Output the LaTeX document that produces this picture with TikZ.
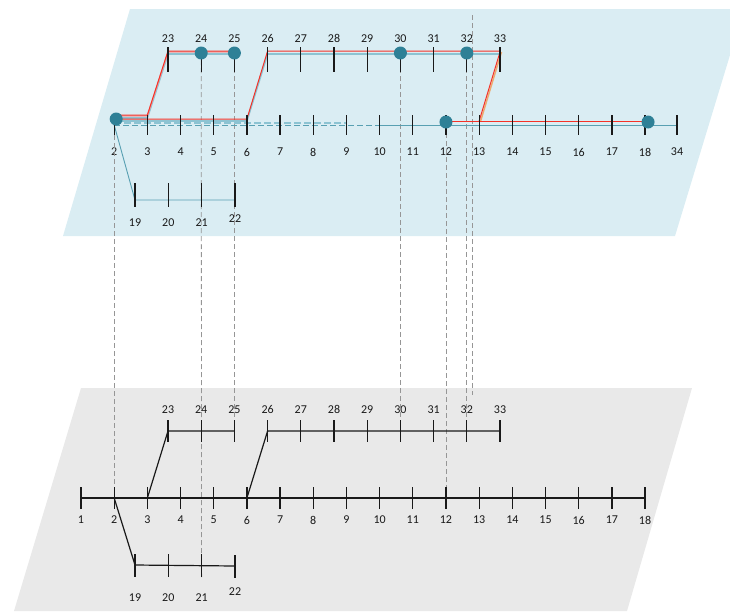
\documentclass[tikz,border=0pt]{standalone}
\usepackage{fontspec}
\setmainfont{Carlito}
\usepackage{tikz}
\usetikzlibrary{positioning}
\definecolor{planeblue}{RGB}{218,237,243}
\definecolor{planegray}{RGB}{233,233,233}
\definecolor{hubteal}{RGB}{46,128,150}
\definecolor{lineteal}{RGB}{88,160,178}
\definecolor{paleteal}{RGB}{140,195,210}
\definecolor{pathred}{RGB}{245,50,40}
\definecolor{palered}{RGB}{240,155,155}
\definecolor{pathtan}{RGB}{238,170,110}
\definecolor{tiegray}{RGB}{150,150,150}

\tikzset{
  bus/.style={inner sep=0pt, minimum size=0pt, outer sep=0pt},
  lab/.style={font=\fontsize{12}{13}\selectfont, inner sep=1pt, text=black!90},
  bustick/.style={line width=1.3pt, black!90},
  feeder/.style={line width=1.2pt, black!90},
  tie/.style={tiegray, line width=0.8pt, dash pattern=on 5pt off 3pt},
  hub/.style={circle, fill=hubteal, inner sep=0pt, minimum size=13pt},
  redpath/.style={pathred, line width=1pt, line join=round},
  pinkpath/.style={palered, line width=1.4pt, line join=round},
  tealpath/.style={paleteal, line width=1.6pt, line join=round},
  tealline/.style={lineteal, line width=0.9pt},
}

\begin{document}
\begin{tikzpicture}[x=1pt, y=-1pt]
\useasboundingbox (0,0) rectangle (730,611);
\clip (0,0) rectangle (730,611);

% planes
\fill[planeblue] (130,9) -- (744,9) -- (675,236) -- (63,236) -- cycle;
\fill[planegray] (81,388) -- (692,388) -- (627,611) -- (14,611) -- cycle;

% lower plane
\foreach \n [evaluate=\n as \x using {81+(\n-1)*33.18}] in {1,...,18}
  \node[bus, label={[lab, label distance=17pt]below:\n}] (b\n) at (\x,498) {};
\foreach \n [evaluate=\n as \x using {168+(\n-23)*33.2}] in {23,...,33}
  \node[bus, label={[lab, label distance=16pt]above:\n}] (c\n) at (\x,431) {};
\foreach \n [evaluate=\n as \x using {135+(\n-19)*33.3}] in {19,20,21}
  \node[bus, label={[lab, label distance=27pt]below:\n}] (d\n) at (\x,565) {};
\node[bus, label={[lab, label distance=21pt]below:22}] (d22) at (235,566) {};

% upper plane
\foreach \n [evaluate=\n as \x using {81+(\n-1)*33.18}] in {2,...,18}
  \node[bus, label={[lab, label distance=22pt]below:\n}] (t\n) at (\x,125) {};
\node[bus, label={[lab, label distance=22pt]below:34}] (t34) at (677,125) {};
\foreach \n [evaluate=\n as \x using {168+(\n-23)*33.2}] in {23,...,33}
  \node[bus, label={[lab, label distance=8pt]above:\n}] (u\n) at (\x,52) {};
\foreach \n [evaluate=\n as \x using {135+(\n-19)*33.3}] in {19,20,21}
  \node[bus, label={[lab, label distance=18pt]below:\n}] (l\n) at (\x,200) {};
\node[bus, label={[lab, label distance=14pt]below:22}] (l22) at (235,200) {};

\coordinate (gtop) at (472,15);
\coordinate (gbot) at (472,395);

% ties between the planes
\draw[tie] ([yshift=6]t2.center) -- (b2.center);
\draw[tie] (u24.center) -- ([yshift=-13]d21.center);
\draw[tie] (u25.center) -- (c25.center);
\draw[tie] (u30.center) -- (c30.center);
\draw[tie] (t12.center) -- (b12.center);
\draw[tie] (u32.center) -- ([yshift=-11]c32.center);
\draw[tie] (gtop) -- (gbot);

% lower plane feeders
\draw[feeder] (b1.center) -- (b18.center);
\draw[feeder] (b3.center) -- (c23.center) -- (c25.center);
\draw[feeder] (b6.center) -- (c26.center) -- (c33.center);
\draw[feeder] (b2.center) -- (d19.center) -- (d22.center);
\foreach \n in {1,...,18}
  \draw[bustick] ([yshift=11]b\n.center) -- ([yshift=-11]b\n.center);
\foreach \n in {23,...,33}
  \draw[bustick] ([yshift=11]c\n.center) -- ([yshift=-11]c\n.center);
\foreach \n in {19,...,22}
  \draw[bustick] ([yshift=11]d\n.center) -- ([yshift=-12]d\n.center);

% upper plane feeders
\draw[tealline] (t2.center) -- (l19.center) -- (l22.center);
\draw[tealline] (t10.center) -- (t34.center);
\draw[tealline, dash pattern=on 6pt off 3pt] (t2.center) -- (t10.center);
\draw[tealpath, dash pattern=on 7pt off 3pt] ([yshift=2]t2.center) -- ([yshift=2]t9.center);
\draw[tealpath] ([yshift=4]t2.center) -- ([yshift=4]t6.center) -- ([yshift=-2]u26.center) -- ([yshift=-2]u33.center);
\draw[tealpath] ([yshift=7]t2.center) -- ([yshift=7]t3.center) -- ([yshift=-2]u23.center) -- ([yshift=-2]u25.center);
\draw[pinkpath] ([yshift=9]t2.center) -- ([yshift=9]t3.center) -- ([yshift=0]u23.center) -- ([yshift=0]u25.center);
\draw[redpath] ([yshift=10]t2.center) -- ([yshift=10]t3.center) -- ([yshift=1]u23.center) -- ([yshift=1]u25.center);
\draw[redpath] ([yshift=6]t2.center) -- ([yshift=6]t6.center) -- ([yshift=1]u26.center) -- ([yshift=1]u33.center);
\draw[pathtan, line width=1.4pt] ([xshift=1.5pt]u33.center) -- ([xshift=1.5pt, yshift=4]t13.center);
\draw[redpath] (u33.center) -- ([yshift=4]t13.center);
\draw[redpath] ([yshift=4]t12.center) -- ([yshift=4]t18.center);
\foreach \n in {2,...,18,34}
  \draw[bustick] ([yshift=10]t\n.center) -- ([yshift=-10]t\n.center);
\foreach \n in {23,...,33}
  \draw[bustick] ([yshift=5]u\n.center) -- ([yshift=-20]u\n.center);
\foreach \n in {19,...,22}
  \draw[bustick] ([yshift=17]l\n.center) -- ([yshift=-7]l\n.center);

% monitored buses
\node[hub] (h2) at ([xshift=2pt, yshift=6]t2.center) {};
\node[hub] (h12) at ([yshift=3]t12.center) {};
\node[hub] (h18) at ([xshift=3pt, yshift=3]t18.center) {};
\node[hub] (h24) at ([yshift=-1]u24.center) {};
\node[hub] (h25) at ([yshift=-1]u25.center) {};
\node[hub] (h30) at ([yshift=-1]u30.center) {};
\node[hub] (h32) at ([yshift=-1]u32.center) {};
\end{tikzpicture}
\end{document}
